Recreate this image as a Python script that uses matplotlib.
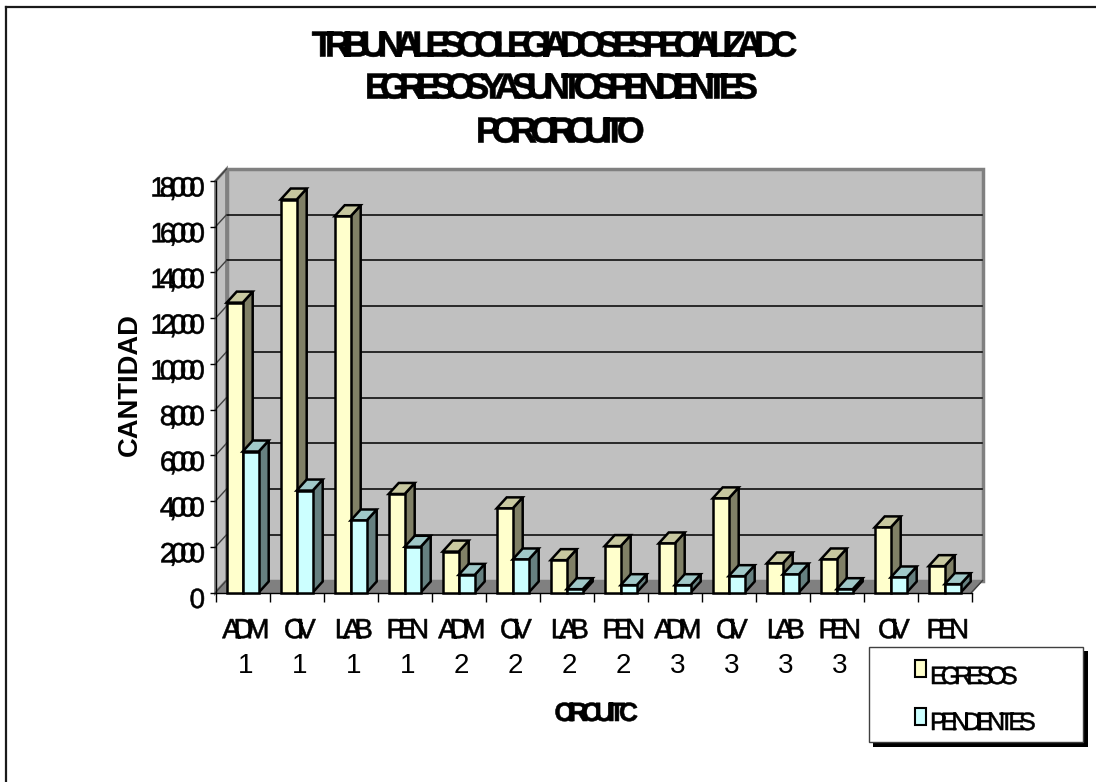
"""Tribunales colegiados: egresos y asuntos pendientes por circuito (3D-look columns)."""

import matplotlib
matplotlib.use("Agg")
import matplotlib.pyplot as plt
from matplotlib.lines import Line2D
from matplotlib.patches import Rectangle
from matplotlib.patheffects import AbstractPathEffect
from matplotlib.path import Path
from matplotlib.textpath import text_to_path
from matplotlib.transforms import ScaledTranslation, blended_transform_factory

MATERIAS = ["ADM", "CIV", "LAB", "PEN", "ADM", "CIV", "LAB", "PEN", "ADM", "CIV", "LAB", "PEN", "CIV", "PEN"]
# the digits of the last two categories sit behind the legend in the reference
NUMEROS = ["1", "1", "1", "1", "2", "2", "2", "2", "3", "3", "3", "3"]
EGRESOS = [12680, 17190, 16460, 4310, 1790, 3680, 1415, 2030, 2145, 4117, 1270, 1445, 2847, 1152]
PENDIENTES = [6167, 4460, 3150, 2000, 770, 1445, 145, 320, 320, 714, 788, 145, 657, 364]
YTICKS = [0, 2000, 4000, 6000, 8000, 10000, 12000, 14000, 16000, 18000]
TITLE_LINES = ["TRIBUNALES COLEGIADOS ESPECIALIZADC", "EGRESOS Y ASUNTOS PENDIENTES", "POR CIRCUITO"]

W, H = 1096, 782
FONT = "Liberation Sans"


class Tracked(AbstractPathEffect):
    """Redraw a text with its letters pushed together (track is in em)."""

    def __init__(self, text, prop, track, anchor=0.5):
        super().__init__()
        self.text = text
        self.prop = prop
        self.track = track
        self.anchor = anchor

    def draw_path(self, renderer, gc, tpath, affine, rgbFace=None):
        font = text_to_path._get_font(self.prop)
        glyphs, glyph_map, _ = text_to_path.get_glyphs_with_font(font, self.text)
        n = len(self.text)
        parts = []
        for i, (gid, xpos, _, _) in enumerate(glyphs):
            verts, codes = glyph_map[gid]
            if len(verts) == 0:
                continue
            shift = xpos - 100 * self.track * (i - self.anchor * (n - 1))
            parts.append(Path(verts + [shift, 0], codes))
        gc.set_foreground(rgbFace)
        gc.set_linewidth(0.4)
        renderer.draw_path(gc, Path.make_compound_path(*parts), affine, rgbFace)


def tight_text(artist, text, track, anchor=0.5):
    artist.set_path_effects([Tracked(text, artist.get_fontproperties(), track, anchor)])
    return artist


def fx(x):
    return x / W


def fy(y):
    return 1 - y / H


fig = plt.figure(figsize=(W / 100, H / 100), dpi=100, facecolor="white")

# axes = front plane of the fake 3D box
left, right, top, bottom = 215.5, 971.5, 181.0, 592.5
ax = fig.add_axes([fx(left), fy(bottom), (right - left) / W, (bottom - top) / H])
ax.set_xlim(0, 14)
ax.set_ylim(0, 18000)
ax.patch.set_visible(False)

px_x = 14 / (right - left)
px_y = 18000 / (bottom - top)
depth_x, depth_y = 11 * px_x, 12 * px_y
bar_dx, bar_dy = 10 * px_x, 11 * px_y

# walls and floor
ax.fill([0, 14, 14 + depth_x, depth_x], [0, 0, depth_y, depth_y],
        facecolor="#808080", edgecolor="#808080", linewidth=1, clip_on=False, zorder=1)
ax.fill([depth_x, 14 + depth_x, 14 + depth_x, depth_x], [depth_y, depth_y, 18000 + depth_y, 18000 + depth_y],
        facecolor="#C0C0C0", edgecolor="#808080", linewidth=2.5, clip_on=False, zorder=1)
ax.fill([0, depth_x, depth_x, 0], [0, depth_y, 18000 + depth_y, 18000],
        facecolor="#C0C0C0", edgecolor="#808080", linewidth=2, clip_on=False, zorder=1)

for v in YTICKS[1:-1]:
    ax.plot([depth_x, 14 + depth_x - 0.01], [v + depth_y, v + depth_y], color="black", lw=1.1, clip_on=False, zorder=2)
for v in YTICKS:
    ax.plot([0, depth_x], [v, v + depth_y], color="#404040", lw=1, clip_on=False, zorder=2)
ax.plot([14, 14 + depth_x], [0, depth_y], color="#404040", lw=1, clip_on=False, zorder=2)

# bars, left to right so the next face covers the side of the previous one
bar_w = 16 * px_x
gap = 11.2 * px_x
z = 3
for i, (e, p) in enumerate(zip(EGRESOS, PENDIENTES)):
    for j, (val, front, side, cap) in enumerate([(e, "#FFFFCC", "#808066", "#C8C8A0"), (p, "#CCFFFF", "#668080", "#A0C8C8")]):
        x0 = i + gap + j * bar_w
        x1 = x0 + bar_w
        ax.fill([x1, x1 + bar_dx, x1 + bar_dx, x1], [0, bar_dy, val + bar_dy, val],
                facecolor=side, edgecolor="black", lw=1.8, joinstyle="miter", clip_on=False, zorder=z)
        ax.fill([x0, x1, x1 + bar_dx, x0 + bar_dx], [val, val, val + bar_dy, val + bar_dy],
                facecolor=cap, edgecolor="black", lw=1.8, joinstyle="miter", clip_on=False, zorder=z)
        ax.bar(x0, val, width=bar_w, align="edge", color=front, edgecolor="black", linewidth=1.8, clip_on=False, zorder=z + 0.5)
        z += 1

for side in ("top", "right"):
    ax.spines[side].set_visible(False)
for side in ("left", "bottom"):
    ax.spines[side].set_linewidth(1)
    ax.spines[side].set_zorder(2.5)

# axes ticks
ax.set_xticks(range(15))
ax.set_xticklabels([])
ax.tick_params(axis="x", which="major", length=6.5, width=1)
ax.set_yticks(YTICKS)
ax.set_yticklabels([f"{v:,}" for v in YTICKS], fontfamily=FONT, fontsize=20)
ax.tick_params(axis="y", length=4, width=1, pad=3.5)
down = ScaledTranslation(0, -5.5 / 100, fig.dpi_scale_trans)
for lab, v in zip(ax.get_yticklabels(), YTICKS):
    lab.set_transform(lab.get_transform() + down)
    tight_text(lab, f"{v:,}", 0.22, anchor=1)

# category labels, first row as axis labels, second row under it
centers = [i + 0.56 for i in range(14)]
ax.set_xticks(centers, minor=True)
ax.set_xticklabels(MATERIAS, minor=True, fontfamily=FONT, fontsize=20)
ax.tick_params(axis="x", which="minor", length=0, pad=18.5)
for lab, s in zip(ax.get_xticklabels(minor=True), MATERIAS):
    tight_text(lab, s, 0.26)
row2 = blended_transform_factory(ax.transData, fig.transFigure)
for c, s in zip(centers, NUMEROS):
    ax.text(c, fy(673), s, transform=row2, ha="center", va="baseline", fontfamily=FONT, fontsize=20, clip_on=False)

# titles
bold = dict(fontfamily=FONT, fontweight="bold", ha="center", va="baseline")
for s, xc, yb, track in zip(TITLE_LINES, [554, 561, 560], [56.5, 98.5, 142.5], [0.245, 0.25, 0.235]):
    t = fig.text(fx(xc), fy(yb), s, fontsize=26, **bold)
    tight_text(t, s, track)
t = fig.text(fx(596), fy(721), "CIRCUITC", fontsize=19, **bold)
tight_text(t, "CIRCUITC", 0.23)
fig.text(fx(137), fy(385), "CANTIDAD", fontsize=19.7, rotation=90, rotation_mode="anchor",
         fontfamily=FONT, fontweight="bold", ha="center", va="baseline")

# frame of the chart area, only its top and left edge fall inside the picture
fig.add_artist(Line2D([fx(6), fx(6)], [0, fy(6.5)], color="#1a1a1a", lw=1.6, transform=fig.transFigure))
fig.add_artist(Line2D([fx(6), 1], [fy(6.5), fy(6.5)], color="#1a1a1a", lw=1.6, transform=fig.transFigure))

# legend box with shadow
overlay = fig.add_axes([0, 0, 1, 1], zorder=10)
overlay.set_xlim(0, W)
overlay.set_ylim(H, 0)
overlay.axis("off")
overlay.add_patch(Rectangle((873, 651), 215, 96, facecolor="black", edgecolor="none"))
overlay.add_patch(Rectangle((868.5, 646.5), 214.5, 95, facecolor="white", edgecolor="#404040", linewidth=1))
overlay.add_patch(Rectangle((915, 660), 11, 16.5, facecolor="#FFFFCC", edgecolor="black", linewidth=1.5))
overlay.add_patch(Rectangle((915, 708), 11, 16.5, facecolor="#CCFFFF", edgecolor="black", linewidth=1.5))
for s, y in zip(["EGRESOS", "PENDIENTES"], [684, 730]):
    t = overlay.text(930, y, s, fontfamily=FONT, fontsize=18, ha="left", va="baseline")
    tight_text(t, s, 0.24, anchor=0)

fig.savefig("out.png", dpi=100, facecolor="white")
plt.close(fig)
